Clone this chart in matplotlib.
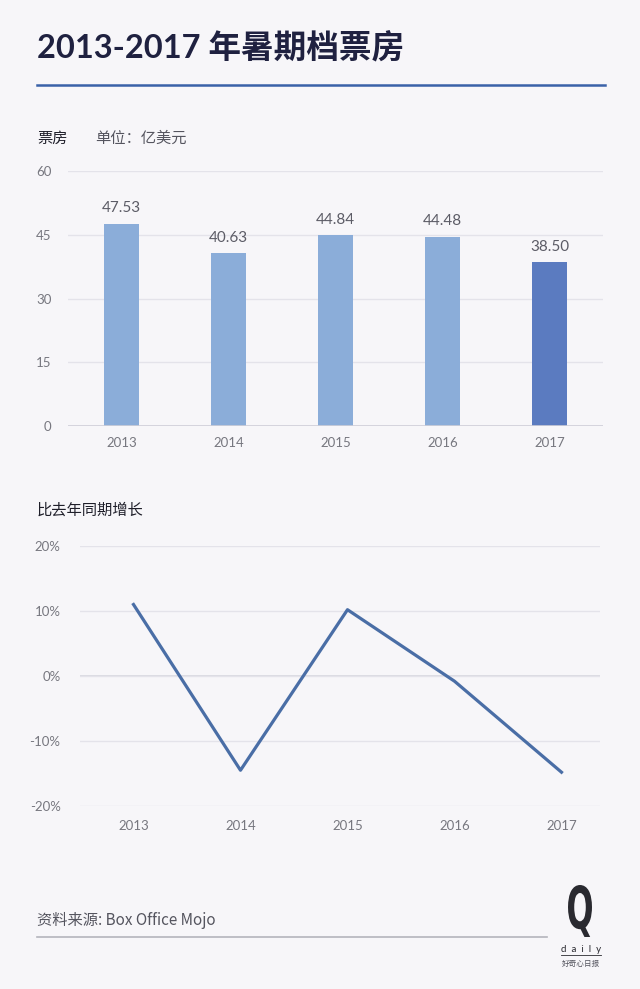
import matplotlib
matplotlib.use("Agg")
import matplotlib.pyplot as plt
from matplotlib.lines import Line2D
from matplotlib.textpath import TextPath
from matplotlib.patches import PathPatch
from matplotlib.font_manager import FontProperties
from matplotlib.transforms import Affine2D

plt.rcParams['font.family'] = ['Lato', 'Noto Sans CJK SC', 'DejaVu Sans']

years = ['2013', '2014', '2015', '2016', '2017']
box_office = [47.53, 40.63, 44.84, 44.48, 38.50]
growth = [11.0, -14.5, 10.2, -0.8, -14.8]
bar_ticks = [0, 15, 30, 45, 60]
growth_ticks = [-20, -10, 0, 10, 20]

bg = '#f7f6f9'
light_bar = '#8badd9'
dark_bar = '#5b7bc0'
grid_c = '#e4e3ea'
tick_c = '#77777f'

fig = plt.figure(figsize=(6.4, 9.89), dpi=100, facecolor=bg)

# title and top rule
fig.text(37/640, 1-47/989, '2013-2017 年暑期档票房', fontsize=23.5, fontweight='bold',
         color='#1f2140', va='center', ha='left', family=['Lato', 'Noto Sans CJK SC'])
fig.add_artist(Line2D([37/640, 605/640], [1-85/989, 1-85/989], color='#3a62a8', lw=1.8))

fig.text(37/640, 1-138/989, '票房', fontsize=11, color='#1f1f2a', va='center',
         family=['Noto Sans CJK SC'])
fig.text(95/640, 1-138/989, '单位：亿美元', fontsize=11, color='#55555f', va='center',
         family=['Noto Sans CJK SC'])

# bar chart
ax1 = fig.add_axes([68/640, 1-426/989, 535/640, 255/989], facecolor=bg)
x = range(len(years))
colors = [light_bar] * 4 + [dark_bar]
ax1.bar(x, box_office, width=0.32, color=colors, zorder=3)
for i, v in enumerate(box_office):
    ax1.text(i, v + 2.0, '%.2f' % v, ha='center', va='bottom', fontsize=11,
             color='#5c5c66')
ax1.set_xlim(-0.5, 4.5)
ax1.set_ylim(0, 60)
ax1.set_yticks(bar_ticks)
ax1.set_xticks(list(x))
ax1.set_xticklabels(years)
ax1.grid(axis='y', color=grid_c, lw=1, zorder=0)
ax1.axhline(0, color='#cfcfd8', lw=1.2, zorder=4)
for s in ax1.spines.values():
    s.set_visible(False)
ax1.tick_params(length=0, labelsize=9.5, labelcolor=tick_c)
ax1.tick_params(axis='y', pad=12)
ax1.tick_params(axis='x', pad=8)

# growth line chart
fig.text(37/640, 1-510/989, '比去年同期增长', fontsize=11, color='#1f1f2a', va='center',
         family=['Noto Sans CJK SC'])
ax2 = fig.add_axes([80/640, 1-806/989, 520/640, 260/989], facecolor=bg)
ax2.plot(range(len(years)), growth, color='#4a6ea6', lw=2.3, zorder=3)
ax2.set_xlim(-0.5, 4.36)
ax2.set_ylim(-20, 20)
ax2.set_yticks(growth_ticks)
ax2.set_yticklabels(['%d%%' % t for t in growth_ticks])
ax2.set_xticks(range(len(years)))
ax2.set_xticklabels(years)
ax2.grid(axis='y', color=grid_c, lw=1, zorder=0)
ax2.axhline(0, color='#d6d6de', lw=1.2, zorder=1)
for s in ax2.spines.values():
    s.set_visible(False)
ax2.tick_params(length=0, labelsize=9.5, labelcolor=tick_c)
ax2.tick_params(axis='y', pad=14)
ax2.tick_params(axis='x', pad=10)

# footer
fig.text(37/640, 1-920/989, '资料来源: Box Office Mojo', fontsize=11, color='#55555f',
         va='center', family=['Noto Sans CJK SC'])
fig.add_artist(Line2D([37/640, 547/640], [1-937/989, 1-937/989], color='#b4b4bc', lw=1.2))

# logo: tall narrow Q
qpath = TextPath((0, 0), 'Q', size=1, prop=FontProperties(family='DejaVu Sans', weight='bold'))
ext = qpath.get_extents()
sx = 24 / ext.width
sy = 52 / ext.height
tr = Affine2D().translate(-ext.x0, -ext.y0).scale(sx, sy).translate(568, 989 - 937)
fig.add_artist(PathPatch(qpath, transform=tr + Affine2D().scale(1/640, 1/989) + fig.transFigure,
                         color='#2a2a30', lw=0))
fig.text(581/640, 1-950/989, 'd  a  i  l  y', fontsize=7, color='#2a2a30', ha='center', va='center')
fig.add_artist(Line2D([561/640, 601/640], [1-955/989, 1-955/989], color='#2a2a30', lw=0.6))
fig.text(581/640, 1-964/989, '好奇心日报', fontsize=5.5, color='#55555f', ha='center',
         va='center', family=['Noto Sans CJK SC'])

plt.savefig('out.png', dpi=100, facecolor=bg)
